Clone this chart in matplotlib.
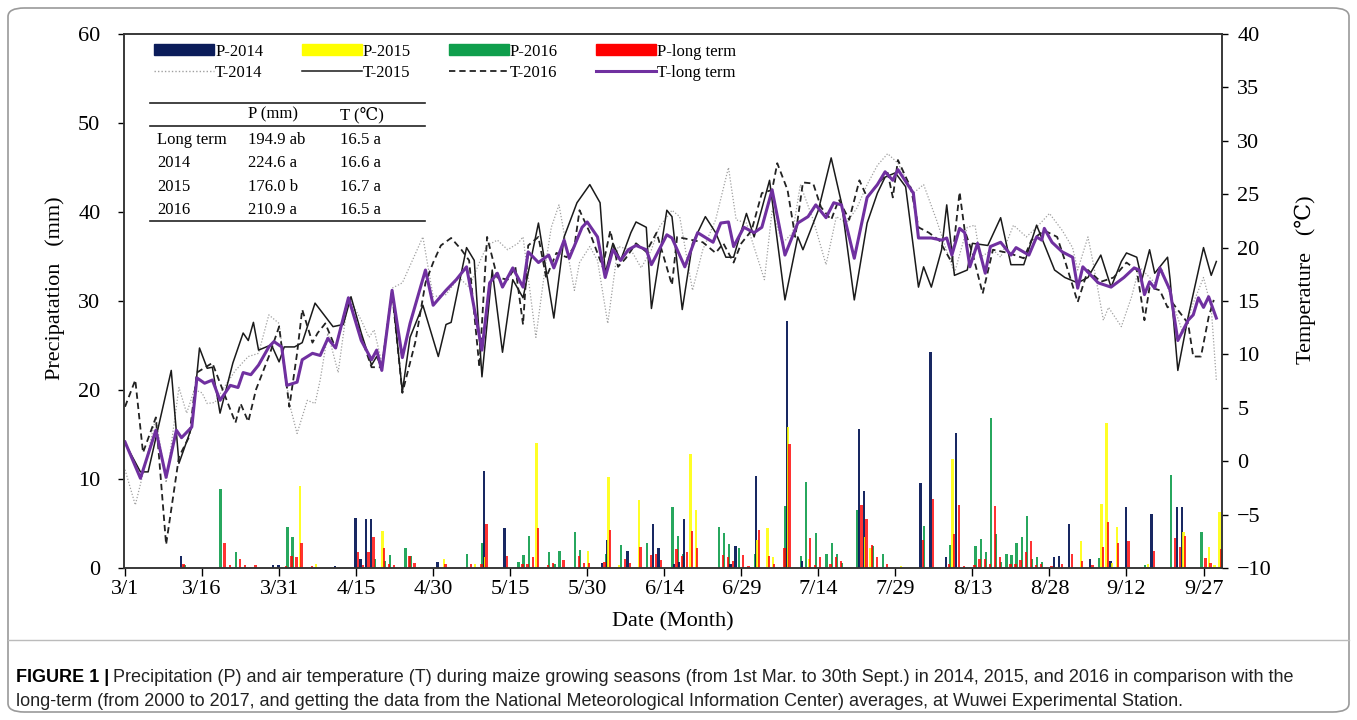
import matplotlib
matplotlib.use("Agg")
import matplotlib.pyplot as plt
from matplotlib.patches import Patch, FancyBboxPatch
from matplotlib.lines import Line2D

plt.rcParams['font.family'] = ['Liberation Serif', 'DejaVu Serif']

# day index: 0 = 1 March
tick_days = [0, 15, 30, 45, 60, 75, 90, 105, 120, 135, 150, 165, 180, 195, 210]
tick_labels = ['3/1', '3/16', '3/31', '4/15', '4/30', '5/15', '5/30', '6/14',
               '6/29', '7/14', '7/29', '8/13', '8/28', '9/12', '9/27']

# precipitation (mm)
p14_day = [11, 29, 30, 41, 45, 46, 47, 48, 61, 70, 74, 93, 94, 98, 103, 104, 107, 108, 109, 118,
           119, 123, 129, 132, 143, 144, 155, 157, 160, 162, 181, 182, 184, 188, 192, 195, 200, 205, 206]
p14_val = [1.3, 0.3, 0.3, 0.2, 5.6, 1.0, 5.5, 5.5, 0.7, 10.9, 4.5, 0.6, 3.1, 1.9, 4.9, 2.2, 0.4, 0.7, 5.5, 0.5,
           2.5, 10.3, 27.8, 0.8, 15.6, 8.7, 9.6, 24.3, 1.2, 15.2, 1.2, 1.3, 5.0, 1.0, 0.8, 6.9, 6.1, 6.9, 6.9]

p15_day = [34, 37, 50, 62, 68, 70, 80, 90, 94, 96, 100, 110, 111, 123, 125, 126, 129, 133, 144, 145,
           151, 161, 186, 190, 191, 192, 193, 199, 206, 211, 212, 213]
p15_val = [9.2, 0.4, 4.2, 1.0, 0.4, 1.2, 14.0, 1.9, 10.2, 0.3, 7.6, 12.8, 6.5, 3.2, 4.5, 1.2, 15.8, 1.0, 3.5, 2.3,
           0.2, 12.2, 3.0, 7.2, 16.3, 0.6, 4.6, 0.4, 4.0, 2.4, 0.3, 6.3]

p16_day = [12, 19, 22, 32, 33, 49, 51, 52, 55, 56, 67, 70, 77, 78, 79, 83, 84, 85, 88, 89,
           94, 97, 102, 107, 108, 109, 116, 117, 118, 120, 123, 129, 132, 133, 135, 137, 138, 139, 140, 143,
           146, 148, 156, 161, 166, 167, 168, 169, 170, 171, 172, 173, 174, 175, 176, 177, 178, 179, 190, 199,
           204, 210]
p16_val = [0.3, 8.9, 1.8, 4.6, 3.5, 1.0, 0.8, 1.5, 2.2, 1.4, 1.6, 2.8, 0.7, 1.5, 3.6, 1.8, 0.5, 1.9, 4.0, 2.0,
           1.6, 2.6, 2.8, 6.8, 3.6, 1.6, 4.6, 3.9, 2.7, 2.2, 1.6, 7.0, 1.3, 9.7, 3.9, 1.6, 2.8, 1.6, 0.6, 6.5,
           2.5, 1.6, 4.7, 2.6, 2.5, 3.3, 1.8, 16.9, 3.8, 0.7, 1.6, 1.5, 2.8, 3.5, 5.8, 1.0, 1.2, 0.7, 1.1, 0.3,
           10.4, 4.0]

plt_day = [11, 19, 20, 22, 23, 25, 31, 32, 33, 34, 36, 45, 46, 47, 48, 50, 51, 52, 55, 56,
           62, 67, 69, 70, 74, 77, 78, 79, 80, 82, 83, 85, 88, 89, 90, 93, 94, 97, 98, 100,
           102, 103, 104, 107, 108, 109, 110, 111, 116, 117, 118, 120, 121, 123, 125, 126, 128, 129, 133, 134,
           135, 137, 138, 139, 143, 144, 145, 146, 148, 155, 157, 160, 161, 162, 163, 165, 166, 167, 168, 169,
           170, 172, 173, 174, 175, 176, 177, 178, 180, 182, 184, 186, 188, 190, 191, 193, 195, 200, 204, 205,
           206, 210, 211, 213]
plt_val = [0.5, 2.8, 0.3, 1.0, 0.3, 0.3, 0.2, 1.4, 1.2, 2.8, 0.2, 1.8, 0.3, 1.8, 3.5, 2.2, 0.4, 0.3, 1.4, 0.6,
           0.5, 0.5, 0.5, 4.9, 1.4, 0.4, 0.5, 1.2, 4.5, 0.3, 0.6, 0.9, 1.3, 0.6, 0.6, 0.7, 4.3, 1.0, 0.6, 2.4,
           1.5, 1.6, 0.9, 2.1, 1.3, 1.8, 4.2, 2.2, 1.5, 1.2, 0.8, 1.5, 0.2, 4.3, 1.4, 0.5, 2.3, 13.9, 3.4, 0.3,
           1.2, 0.5, 1.2, 0.8, 7.1, 5.5, 2.6, 1.2, 0.5, 3.1, 7.7, 0.5, 3.8, 7.1, 0.2, 0.3, 1.0, 1.0, 0.5, 7.0,
           1.2, 0.4, 0.4, 0.9, 1.8, 3.0, 0.3, 0.4, 0.2, 0.5, 1.6, 0.8, 0.3, 2.4, 5.2, 2.8, 3.0, 1.9, 3.4, 2.4,
           3.6, 1.1, 0.6, 2.1]

# air temperature (degC), read at the turning points of each curve
t14_day = [0, 2, 4, 6, 8, 10.5, 12, 13.5, 15, 16, 17.5, 19, 21.5, 24, 26, 28, 30, 32, 33.5, 35.5,
           37, 38, 39.5, 41.5, 43.5, 46, 47.5, 48.5, 50, 52, 54, 58, 60, 62.5, 65, 67, 69, 70.5, 72.5, 74.5,
           76.5, 77.5, 80, 82, 83, 84.5, 87.5, 88.5, 90.5, 92, 94, 96, 98.5, 100.5, 102.5, 104, 106.5, 108, 110.5, 112.5,
           115, 117.5, 119, 121, 124.5, 126, 128, 130, 131.5, 134, 136.5, 138.5, 140.5, 142.5, 144.5, 146.5, 148.5, 150.5, 153.5, 155.5,
           158, 159.5, 161.5, 164, 165.5, 166.5, 169, 170.5, 173, 175.5, 177.5, 180, 182.5, 184.5, 185.5, 187.5, 188.5, 190.5, 191.5, 194,
           196, 197.5, 200.5, 202, 204, 206, 208, 210, 211.5, 212.5]
t14_val = [-0.8, -4.1, -0.2, 4.1, -2.0, 6.9, 4.5, 6.7, 6.4, 5.4, 5.5, 6.7, 8.5, 9.8, 10.1, 13.7, 12.9, 5.4, 2.6, 5.7,
           5.4, 7.6, 12.0, 8.3, 15.4, 13.2, 11.6, 12.3, 9.2, 16.2, 16.7, 21.0, 15.4, 15.6, 17.2, 16.3, 18.6, 20.2, 20.7, 19.8,
           20.4, 21.0, 11.6, 18.8, 21.9, 24.0, 16.0, 18.6, 20.1, 18.8, 12.9, 20.1, 19.8, 18.1, 19.8, 21.9, 23.5, 22.9, 16.0, 19.8,
           22.6, 27.5, 22.6, 22.3, 17.0, 23.5, 20.4, 21.4, 25.9, 22.6, 18.4, 22.9, 22.3, 23.7, 25.9, 27.7, 28.8, 27.9, 25.1, 25.9,
           22.6, 20.4, 17.6, 21.9, 22.1, 19.1, 19.8, 19.1, 22.1, 21.0, 21.9, 23.2, 21.6, 20.0, 17.9, 21.0, 18.6, 13.2, 14.4, 12.6,
           15.4, 18.2, 16.7, 17.9, 14.8, 12.0, 14.8, 17.2, 14.4, 7.6]

t15_day = [0, 3, 4.5, 9, 10.5, 13, 14.5, 16, 17, 18.5, 21, 23, 24, 25, 26, 28.5, 30, 31, 33, 34.5,
           37, 40.5, 42.5, 44, 46, 48, 49, 50, 52, 54, 55.5, 58, 61, 62.5, 63.5, 66.5, 68, 69.5, 71.5, 73.5,
           75.5, 77.5, 80.5, 83.5, 85.5, 88, 90.5, 92.5, 93.5, 95, 96.5, 98.5, 99.5, 101.5, 102.5, 105.5, 106.5, 108.5, 110.5, 113,
           115, 117, 118.5, 121, 122.5, 125.5, 128.5, 131, 132, 135, 137.5, 139.5, 142, 144.5, 146.5, 148, 150, 152, 154.5, 155.5,
           157, 159, 160, 161.5, 164, 165, 168, 170.5, 172.5, 175, 177.5, 181, 183, 185.5, 187.5, 190, 192, 194, 195, 197,
           198, 199.5, 200.5, 203, 203.5, 205, 207, 210, 211.5, 212.5]
t15_val = [1.7, -1.0, -1.0, 8.5, -0.2, 3.2, 10.6, 8.7, 8.8, 4.5, 9.2, 12.0, 11.3, 13.0, 10.4, 10.9, 9.3, 10.7, 10.7, 11.1,
           14.8, 12.6, 12.8, 15.4, 12.0, 9.0, 9.8, 8.7, 16.0, 6.5, 11.6, 14.6, 9.8, 12.8, 13.0, 20.0, 18.8, 7.9, 17.9, 10.2,
           17.0, 15.3, 22.3, 13.4, 21.0, 24.2, 25.9, 24.2, 17.6, 20.4, 18.8, 21.4, 22.4, 21.9, 14.3, 23.5, 22.9, 14.2, 20.4, 22.9,
           21.4, 19.1, 19.1, 23.2, 21.0, 26.3, 15.1, 21.0, 19.8, 23.5, 28.4, 24.2, 15.1, 22.3, 25.1, 26.6, 27.0, 25.7, 16.3, 18.2,
           16.3, 19.8, 24.0, 17.4, 17.9, 20.4, 20.2, 22.8, 18.4, 18.4, 22.1, 17.9, 17.2, 16.7, 17.2, 19.3, 16.3, 18.7, 19.5, 19.1,
           17.0, 19.8, 17.6, 19.1, 17.0, 8.5, 13.5, 20.0, 17.4, 18.7]

t16_day = [0, 2, 3.5, 6, 8, 10.5, 12.5, 14, 17, 19, 21.5, 22.5, 24, 25.5, 28, 30, 32, 33.5, 34.5, 36.5,
           37.5, 39, 41, 43.5, 46, 48, 50, 52, 54, 56.5, 58.5, 60, 61.5, 63.5, 65.5, 67, 69, 70.5, 72.5, 74.5,
           76, 77.5, 78.5, 80.5, 82, 84, 86, 87.5, 88.5, 90.5, 93, 94.5, 96, 97.5, 99.5, 101.5, 103.5, 106.5, 107.5, 110.5,
           112.5, 115, 116.5, 118.5, 120, 122, 124, 126, 127, 129, 130.5, 132, 134, 135.5, 137.5, 139, 141, 143, 144.5, 146.5,
           148.5, 149.5, 150.5, 153, 154.5, 156.5, 158.5, 161, 162.5, 163.5, 165, 167, 169, 172, 175, 176.5, 179, 181.5, 183, 185.5,
           187.5, 190, 192.5, 195, 197, 198.5, 199.5, 201.5, 203, 204, 207, 208, 209.5, 211, 212]
t16_val = [5.1, 7.6, 0.8, 4.1, -7.8, 0.4, 2.3, 8.3, 9.2, 6.7, 3.6, 5.4, 3.7, 6.7, 9.8, 12.6, 5.1, 10.1, 14.2, 11.1,
           12.0, 12.9, 10.6, 15.3, 11.6, 8.8, 8.8, 15.8, 6.4, 11.1, 16.7, 18.6, 20.2, 20.9, 19.8, 18.8, 8.8, 21.0, 17.2, 17.0,
           18.2, 12.8, 20.2, 21.0, 17.2, 19.5, 19.1, 20.1, 23.5, 21.4, 18.2, 21.6, 18.2, 19.0, 20.4, 19.6, 21.4, 16.5, 21.0, 20.7,
           20.5, 19.5, 20.4, 18.6, 20.4, 21.6, 25.1, 25.4, 27.9, 25.4, 21.0, 26.1, 26.0, 23.8, 22.6, 24.5, 22.6, 26.3, 24.7, 25.9,
           27.0, 24.7, 28.2, 25.6, 21.9, 21.4, 20.7, 18.6, 25.2, 21.6, 19.5, 15.7, 19.8, 19.5, 19.0, 20.7, 21.6, 21.0, 18.8, 14.9,
           17.9, 16.8, 17.2, 18.6, 17.9, 13.2, 16.3, 16.0, 14.4, 14.8, 12.9, 9.8, 9.8, 13.5, 15.1]

tlt_day = [0, 3, 6, 8, 10, 11, 13, 14, 15.5, 17, 18.5, 20.5, 22, 23, 24.5, 26, 28, 29, 30.5, 31.5,
           33.5, 34.5, 36.5, 38, 39.5, 41, 43.5, 46, 48, 49, 50, 52, 54, 55.5, 57, 58.5, 60, 62.5, 64.5, 66.5,
           69.5, 71, 72.5, 73.5, 75.5, 77.5, 78.5, 80.5, 82.5, 83.5, 85.5, 86.5, 89, 90, 92, 93.5, 95, 96.5, 98, 99.5,
           101.5, 102.5, 105.5, 106.5, 109, 111.5, 114.5, 116, 117.5, 118.5, 120.5, 122.5, 124, 126, 128.5, 131, 133, 134.5, 136.5, 138,
           139.5, 142, 144.5, 146.5, 148, 149.5, 150.5, 153.5, 154.5, 157, 159, 160, 161, 162.5, 163.5, 164.5, 166, 167.5, 168.5, 170.5,
           172.5, 173.5, 176, 177.5, 178.5, 179, 180.5, 182.5, 184.5, 185.5, 186.5, 189.5, 192, 194.5, 196.5, 197.5, 198.5, 199.5, 200.5, 201.5,
           203.5, 205, 207, 208, 209, 210, 211, 212.5]
tlt_val = [1.8, -1.6, 2.9, -1.5, 2.9, 2.2, 3.2, 7.8, 7.3, 7.6, 5.7, 7.1, 6.9, 8.3, 8.1, 9.0, 10.7, 11.2, 10.7, 7.1,
           7.4, 9.5, 10.1, 9.9, 11.5, 10.6, 15.3, 11.3, 9.5, 10.4, 8.5, 16.0, 9.7, 12.9, 15.4, 17.9, 14.6, 16.0, 17.0, 18.2,
           10.4, 16.7, 17.6, 16.3, 18.1, 16.3, 19.6, 18.6, 19.3, 18.1, 20.7, 19.0, 21.9, 22.4, 21.0, 17.2, 19.8, 18.8, 19.8, 20.2,
           19.8, 18.4, 21.2, 20.9, 18.2, 21.4, 20.5, 22.3, 22.4, 20.1, 21.9, 21.4, 21.9, 25.4, 19.3, 22.3, 22.9, 24.0, 22.8, 24.2,
           24.0, 19.0, 24.7, 25.9, 27.1, 26.3, 27.3, 25.1, 20.9, 20.9, 20.7, 20.9, 19.3, 21.8, 21.4, 18.2, 20.4, 17.6, 20.1, 20.5,
           19.3, 20.0, 19.3, 21.0, 20.7, 21.8, 20.5, 19.6, 19.1, 16.2, 18.2, 16.7, 16.3, 17.2, 18.1, 17.9, 15.6, 16.8, 16.2, 18.1,
           16.0, 11.3, 13.2, 13.7, 15.3, 14.4, 15.4, 13.4]

table_cols = ['', 'P (mm)', 'T (\u2103)']
table_rows = [['Long term', '194.9 ab', '16.5 a'],
              ['2014', '224.6 a', '16.6 a'],
              ['2015', '176.0 b', '16.7 a'],
              ['2016', '210.9 a', '16.5 a']]

c_navy, c_yel, c_grn, c_red = '#0b1c5a', '#ffff00', '#0f9e4c', '#ff0000'
c_purple = '#7030a0'

fig = plt.figure(figsize=(13.57, 7.2), dpi=100)
ax = fig.add_axes([124 / 1357, 1 - 568 / 720, 1098 / 1357, 534 / 720])

bw = 0.45
ax.bar([d - 0.39 for d in p16_day], p16_val, width=bw, color=c_grn, alpha=0.9, lw=0)
ax.bar([d - 0.13 for d in p14_day], p14_val, width=bw, color=c_navy, alpha=0.95, lw=0)
ax.bar([d + 0.13 for d in p15_day], p15_val, width=bw, color=c_yel, alpha=0.85, lw=0)
ax.bar([d + 0.39 for d in plt_day], plt_val, width=bw, color=c_red, alpha=0.8, lw=0)

ax.set_xlim(-0.2, 213.6)
ax.set_ylim(0, 60)
ax.set_yticks(range(0, 61, 10))
ax.set_xticks(tick_days)
ax.set_xticklabels(tick_labels)
ax.tick_params(axis='x', direction='out', length=6, width=1, labelsize=16, pad=3)
ax.tick_params(axis='y', direction='out', length=4, width=1, labelsize=16, pad=13)
for s in ax.spines.values():
    s.set_linewidth(1.1)
    s.set_color('#333333')

ax2 = ax.twinx()
ax2.plot(t14_day, t14_val, color='#a0a0a0', lw=0.9, ls=(0, (1, 1.5)))
ax2.plot(t15_day, t15_val, color='#1a1a1a', lw=1.1)
ax2.plot(t16_day, t16_val, color='#222222', lw=1.3, ls=(0, (3.5, 2.2)))
ax2.plot(tlt_day, tlt_val, color=c_purple, lw=2.2)
ax2.set_ylim(-10, 40)
ax2.set_yticks(range(-10, 41, 5))
ax2.tick_params(axis='y', direction='out', length=4, width=1, labelsize=16, pad=7)
for s in ax2.spines.values():
    s.set_linewidth(1.1)
    s.set_color('#333333')

handles = [Patch(color=c_navy), Line2D([], [], color='#a0a0a0', lw=1.0, ls=(0, (1, 1.5))),
           Patch(color=c_yel), Line2D([], [], color='#1a1a1a', lw=1.1),
           Patch(color=c_grn), Line2D([], [], color='#222222', lw=1.3, ls=(0, (3.5, 2.2))),
           Patch(color=c_red), Line2D([], [], color=c_purple, lw=2.2)]
labels = ['P-2014', 'T-2014', 'P-2015', 'T-2015', 'P-2016', 'T-2016', 'P-long term', 'T-long term']
ax2.legend(handles, labels, ncol=4, loc='upper left', bbox_to_anchor=(0.014, 1.01),
           frameon=False, fontsize=12, handlelength=3.6, handleheight=0.65,
           handletextpad=0.05, columnspacing=2.3, labelspacing=0.3)

# small summary table
tx0, tx1 = 0.024, 0.274
for yy in [0.871, 0.828, 0.650]:
    ax2.plot([tx0, tx1], [yy, yy], transform=ax2.transAxes, color='#222222', lw=1.2, clip_on=False)
col_x = [0.030, 0.113, 0.197]
for cx, txt in zip(col_x, table_cols):
    ax2.text(cx, 0.849, txt, transform=ax2.transAxes, fontsize=12, va='center')
row_y = [0.802, 0.759, 0.714, 0.671]
for ry, row in zip(row_y, table_rows):
    for cx, txt in zip(col_x, row):
        ax2.text(cx, ry, txt, transform=ax2.transAxes, fontsize=12, va='center')

fig.text(55 / 1357, 1 - 288 / 720, 'Precipatation   (mm)', rotation=90, ha='center', va='center', fontsize=16)
fig.text(1305 / 1357, 1 - 280 / 720, 'Temperature   (\u2103)', rotation=90, ha='center', va='center', fontsize=16)
fig.text(673 / 1357, 1 - 622 / 720, 'Date (Month)', ha='center', va='center', fontsize=16)

# frame and caption
fig.patches.append(FancyBboxPatch((8 / 1357, 8 / 720), 1341 / 1357, 704 / 720,
                                  boxstyle='round,pad=0,rounding_size=0.012',
                                  transform=fig.transFigure, fill=False, ec='#9a9a9a', lw=1.2))
fig.add_artist(Line2D([8 / 1357, 1349 / 1357], [1 - 640 / 720, 1 - 640 / 720],
                      transform=fig.transFigure, color='#bbbbbb', lw=1))
cap_font = ['Liberation Sans', 'DejaVu Sans']
cap_size = 13
t1 = fig.text(16 / 1357, 1 - 677 / 720, 'FIGURE 1 |', family=cap_font, weight='bold',
              fontsize=cap_size, va='center')
fig.canvas.draw()
bb = t1.get_window_extent()
fig.text(bb.x1 / fig.bbox.width + 4 / 1357, 1 - 677 / 720,
         'Precipitation (P) and air temperature (T) during maize growing seasons (from 1st Mar. to 30th Sept.) '
         'in 2014, 2015, and 2016 in comparison with the',
         family=cap_font, fontsize=cap_size, va='center', color='#222222')
fig.text(16 / 1357, 1 - 701 / 720,
         'long-term (from 2000 to 2017, and getting the data from the National Meteorological Information Center) '
         'averages, at Wuwei Experimental Station.',
         family=cap_font, fontsize=cap_size, va='center', color='#222222')

fig.savefig('out.png', dpi=100)
